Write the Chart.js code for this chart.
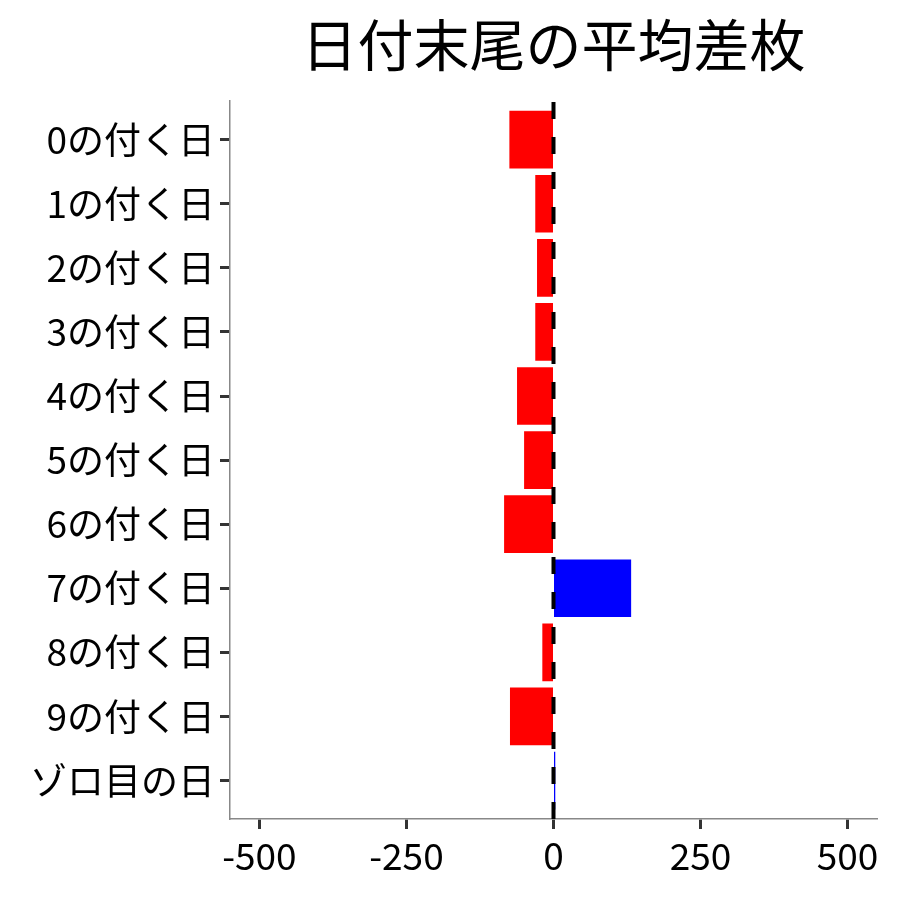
<!DOCTYPE html>
<html>
<head>
<meta charset="utf-8">
<script src="https://cdn.jsdelivr.net/npm/chart.js@4"></script>
<style>
  html, body { margin: 0; padding: 0; background: #fff; }
  #wrap { width: 900px; height: 900px; }
</style>
</head>
<body>
<div id="wrap"><canvas id="BarChart" width="900" height="900"></canvas></div>
<script>
const titleText = "日付末尾の平均差枚";
const categories = [
  "0の付く日", "1の付く日", "2の付く日", "3の付く日", "4の付く日",
  "5の付く日", "6の付く日", "7の付く日", "8の付く日", "9の付く日", "ゾロ目の日",
];
const diffValues = [-75, -31, -28, -31, -62, -50, -84, 132, -19, -74, 3];
const xTicks = [-500, -250, 0, 250, 500];
const xMin = -550;
const xMax = 550;

const fontFamily = "'Noto Sans CJK JP', 'Noto Sans CJK SC', sans-serif";
const posColor = "#0000FF";
const negColor = "#FF0000";

// dashed reference line at x = 0, drawn over the bars
const zeroLinePlugin = {
  id: "zeroLine",
  afterDatasetsDraw(chart) {
    const { ctx, chartArea, scales } = chart;
    const x = scales.x.getPixelForValue(0);
    ctx.save();
    ctx.beginPath();
    ctx.setLineDash([17, 18]);
    ctx.lineWidth = 4;
    ctx.strokeStyle = "#000";
    ctx.moveTo(x, chartArea.bottom);
    ctx.lineTo(x, chartArea.top);
    ctx.stroke();
    ctx.restore();
  },
};

const chartConfig = {
  type: "bar",
  data: {
    datasets: [
      {
        data: diffValues.map((v, i) => ({ x: v, y: i })),
        backgroundColor: diffValues.map(v => (v >= 0 ? posColor : negColor)),
        borderWidth: 0,
        categoryPercentage: 1,
        barPercentage: 0.9,
      },
    ],
  },
  options: {
    indexAxis: "y",
    responsive: false,
    animation: false,
    devicePixelRatio: 1,
    layout: {
      padding: { left: 30, right: 23, top: 0, bottom: 0 },
    },
    scales: {
      x: {
        type: "linear",
        min: xMin,
        max: xMax,
        bounds: "data",
        afterBuildTicks: s => {
          s.ticks = xTicks.map(v => ({ value: v }));
        },
        afterFit: s => {
          s.height = 81;
        },
        border: { display: true, color: "#888888", width: 1.5 },
        grid: {
          drawOnChartArea: false,
          drawTicks: true,
          tickLength: 10,
          tickWidth: 3,
          tickColor: "#333333",
        },
        ticks: {
          autoSkip: false,
          maxRotation: 0,
          padding: 5,
          color: "#000",
          font: { family: fontFamily, size: 37 },
          callback: v => String(v),
        },
      },
      y: {
        type: "linear",
        reverse: true,
        offset: false,
        min: -0.6,
        max: categories.length - 1 + 0.6,
        bounds: "data",
        afterBuildTicks: s => {
          s.ticks = categories.map((c, i) => ({ value: i }));
        },
        afterFit: s => {
          s.width = 200;
        },
        border: { display: true, color: "#888888", width: 1.5 },
        grid: {
          offset: false,
          drawOnChartArea: false,
          drawTicks: true,
          tickLength: 10,
          tickWidth: 3,
          tickColor: "#333333",
        },
        ticks: {
          autoSkip: false,
          padding: 5,
          color: "#000",
          font: { family: fontFamily, size: 37 },
          callback: v => categories[v],
        },
      },
    },
    plugins: {
      legend: { display: false },
      tooltip: { enabled: false },
      title: {
        display: true,
        text: titleText,
        fullSize: false,
        color: "#000",
        font: { family: fontFamily, size: 56, weight: "normal", lineHeight: 1.2 },
        padding: { top: 11, bottom: 23 },
      },
    },
  },
  plugins: [zeroLinePlugin],
};

new Chart(document.getElementById("BarChart"), chartConfig);
</script>
</body>
</html>
